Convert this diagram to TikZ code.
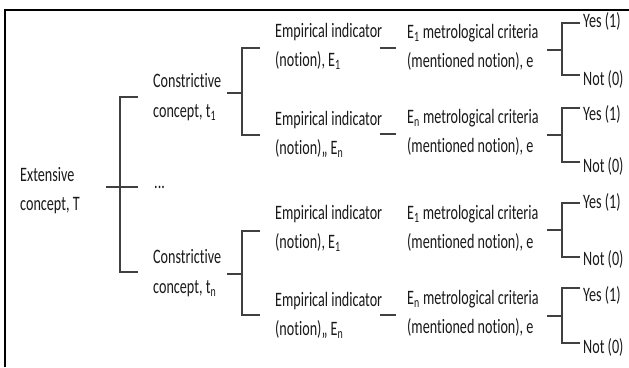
\documentclass[tikz,border=0pt]{standalone}
\usepackage{fontspec}
\setmainfont[FakeStretch=0.69,Ligatures=NoCommon]{Carlito}
\begin{document}
\begin{tikzpicture}[x=1pt,y=-1pt,
  lbl/.style={anchor=base west, inner sep=0pt, font=\fontsize{20.5}{24}\selectfont, text=black!90},
  br/.style={draw=black!75, line width=1.1pt},
  frame/.style={draw=black, line width=1.2pt}]
\useasboundingbox (0,0) rectangle (629,367);
% frame
\coordinate (fl) at (5,367);
\coordinate (ft) at (5,10);
\coordinate (fr) at (629,10);
\draw[frame] (fl) -- (ft) -- (fr);

% root
\node[lbl] (ext1) at (20,181) {Extensive};
\node[lbl] (ext2) at (20,210) {concept, T};
% second level
\node[lbl] (ca1) at (153,87) {Constrictive};
\node[lbl] (ca2) at (153,117) {concept, t\textsubscript{1}};
\node[lbl] (dots) at (154,188) {...};
\node[lbl] (cb1) at (153,263) {Constrictive};
\node[lbl] (cb2) at (153,293) {concept, t\textsubscript{n}};
% empirical indicators
\node[lbl] (ea1) at (275,37) {Empirical indicator};
\node[lbl] (ea2) at (275,66) {(notion), E\textsubscript{1}};
\node[lbl] (eb1) at (275,125) {Empirical indicator};
\node[lbl] (eb2) at (275,154) {(notion),, E\textsubscript{n}};
\node[lbl] (ec1) at (275,219) {Empirical indicator};
\node[lbl] (ec2) at (275,248) {(notion), E\textsubscript{1}};
\node[lbl] (ed1) at (275,306) {Empirical indicator};
\node[lbl] (ed2) at (275,335) {(notion),, E\textsubscript{n}};
% metrological criteria
\node[lbl] (ma1) at (407,38) {E\textsubscript{1} metrological criteria};
\node[lbl] (ma2) at (407,67) {(mentioned notion), e};
\node[lbl] (mb1) at (407,123) {E\textsubscript{n} metrological criteria};
\node[lbl] (mb2) at (407,152) {(mentioned notion), e};
\node[lbl] (mc1) at (407,219) {E\textsubscript{1} metrological criteria};
\node[lbl] (mc2) at (407,248) {(mentioned notion), e};
\node[lbl] (md1) at (407,304) {E\textsubscript{n} metrological criteria};
\node[lbl] (md2) at (407,333) {(mentioned notion), e};
% outcomes
\node[lbl] (ya) at (583,27) {Yes (1)};
\node[lbl] (na) at (583,85) {Not (0)};
\node[lbl] (yb) at (583,120) {Yes (1)};
\node[lbl] (nb) at (583,172) {Not (0)};
\node[lbl] (yc) at (583,208) {Yes (1)};
\node[lbl] (nc) at (583,265) {Not (0)};
\node[lbl] (yd) at (583,301) {Yes (1)};
\node[lbl] (nd) at (583,353) {Not (0)};

% main bracket
\coordinate (r0) at (106,187);
\coordinate (rj) at (120,187);
\coordinate (rt) at (138,97);
\coordinate (rm) at (138,187);
\coordinate (rb) at (138,272);
\draw[br] (r0) -- (rm);
\draw[br] (rt) -| (rj) |- (rb);

% second-level brackets
\foreach \n/\y/\t/\b in {a/93/48/135, b/274/231/315}{
  \coordinate (s\n0) at (227,\y);
  \coordinate (s\n j) at (242,\y);
  \coordinate (s\n t) at (260,\t);
  \coordinate (s\n b) at (260,\b);
  \draw[br] (s\n0) -- (s\n j);
  \draw[br] (s\n t) -| (s\n j) |- (s\n b);
}

% short connectors after empirical indicator
\foreach \n/\y in {a/48, b/134, d/315}{
  \coordinate (u\n0) at (380,\y);
  \coordinate (u\n1) at (396,\y);
  \draw[br] (u\n0) -- (u\n1);
}

% outcome brackets
\foreach \n/\y/\t/\b in {a/50/23/75, b/135/108/162, c/230/203/257, d/316/288/343}{
  \coordinate (o\n0) at (547,\y);
  \coordinate (o\n j) at (562,\y);
  \coordinate (o\n t) at (580,\t);
  \coordinate (o\n b) at (580,\b);
  \draw[br] (o\n0) -- (o\n j);
  \draw[br] (o\n t) -| (o\n j) |- (o\n b);
}
\end{tikzpicture}
\end{document}
